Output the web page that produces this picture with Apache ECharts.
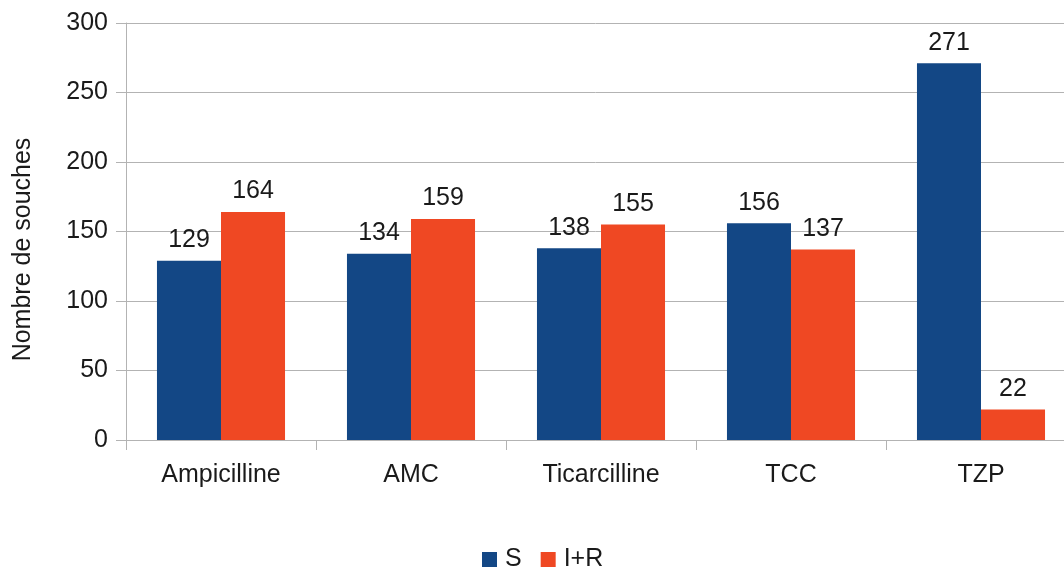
<!DOCTYPE html>
<html><head><meta charset="utf-8">
<script src="https://cdn.jsdelivr.net/npm/echarts@6/dist/echarts.min.js"></script>
<style>html,body{margin:0;padding:0;background:#fff}#c{width:1064px;height:570px}</style>
</head><body><div id="c"></div>
<script>
const categories = ['Ampicilline', 'AMC', 'Ticarcilline', 'TCC', 'TZP'];
const seriesS = [129, 134, 138, 156, 271];
const seriesIR = [164, 159, 155, 137, 22];
const yTicks = { min: 0, max: 300, interval: 50 };
const font = '"Liberation Sans", Arial, sans-serif';
const chart = echarts.init(document.getElementById('c'));
const lbl = { show: true, position: 'top', distance: 8, color: '#1a1a1a', fontSize: 25, fontFamily: font };
chart.setOption({
  animation: false,
  grid: { left: 126, top: 23, height: 417, width: 950, containLabel: false, outerBoundsMode: 'none' },
  legend: {
    left: 477, top: 542, itemWidth: 15, itemHeight: 15, itemGap: 19,
    icon: 'rect', textStyle: { fontSize: 25, fontFamily: font, color: '#1a1a1a', padding: [0, 0, 0, 3] },
    data: ['S', 'I+R']
  },
  xAxis: {
    type: 'category', data: categories,
    axisLine: { lineStyle: { color: '#b3b3b3', width: 1 } },
    axisTick: { show: true, length: 10, lineStyle: { color: '#b3b3b3' } },
    axisLabel: { fontSize: 25, fontFamily: font, color: '#1a1a1a', margin: 23 }
  },
  yAxis: {
    type: 'value', min: yTicks.min, max: yTicks.max, interval: yTicks.interval,
    name: 'Nombre de souches', nameLocation: 'middle', nameGap: 90,
    nameTextStyle: { fontSize: 25, fontFamily: font, color: '#1a1a1a', padding: [0, 36, 0, 0] },
    axisLine: { show: true, lineStyle: { color: '#b3b3b3' } },
    axisTick: { show: true, length: 10, lineStyle: { color: '#b3b3b3' } },
    splitLine: { lineStyle: { color: '#b3b3b3' } },
    axisLabel: { fontSize: 25, fontFamily: font, color: '#1a1a1a', margin: 18 }
  },
  series: [
    { name: 'S', type: 'bar', data: seriesS, itemStyle: { color: '#134785' }, barGap: '0%', barCategoryGap: '32.6%', label: lbl },
    { name: 'I+R', type: 'bar', data: seriesIR, itemStyle: { color: '#ef4823' }, label: lbl }
  ]
});
</script></body></html>
